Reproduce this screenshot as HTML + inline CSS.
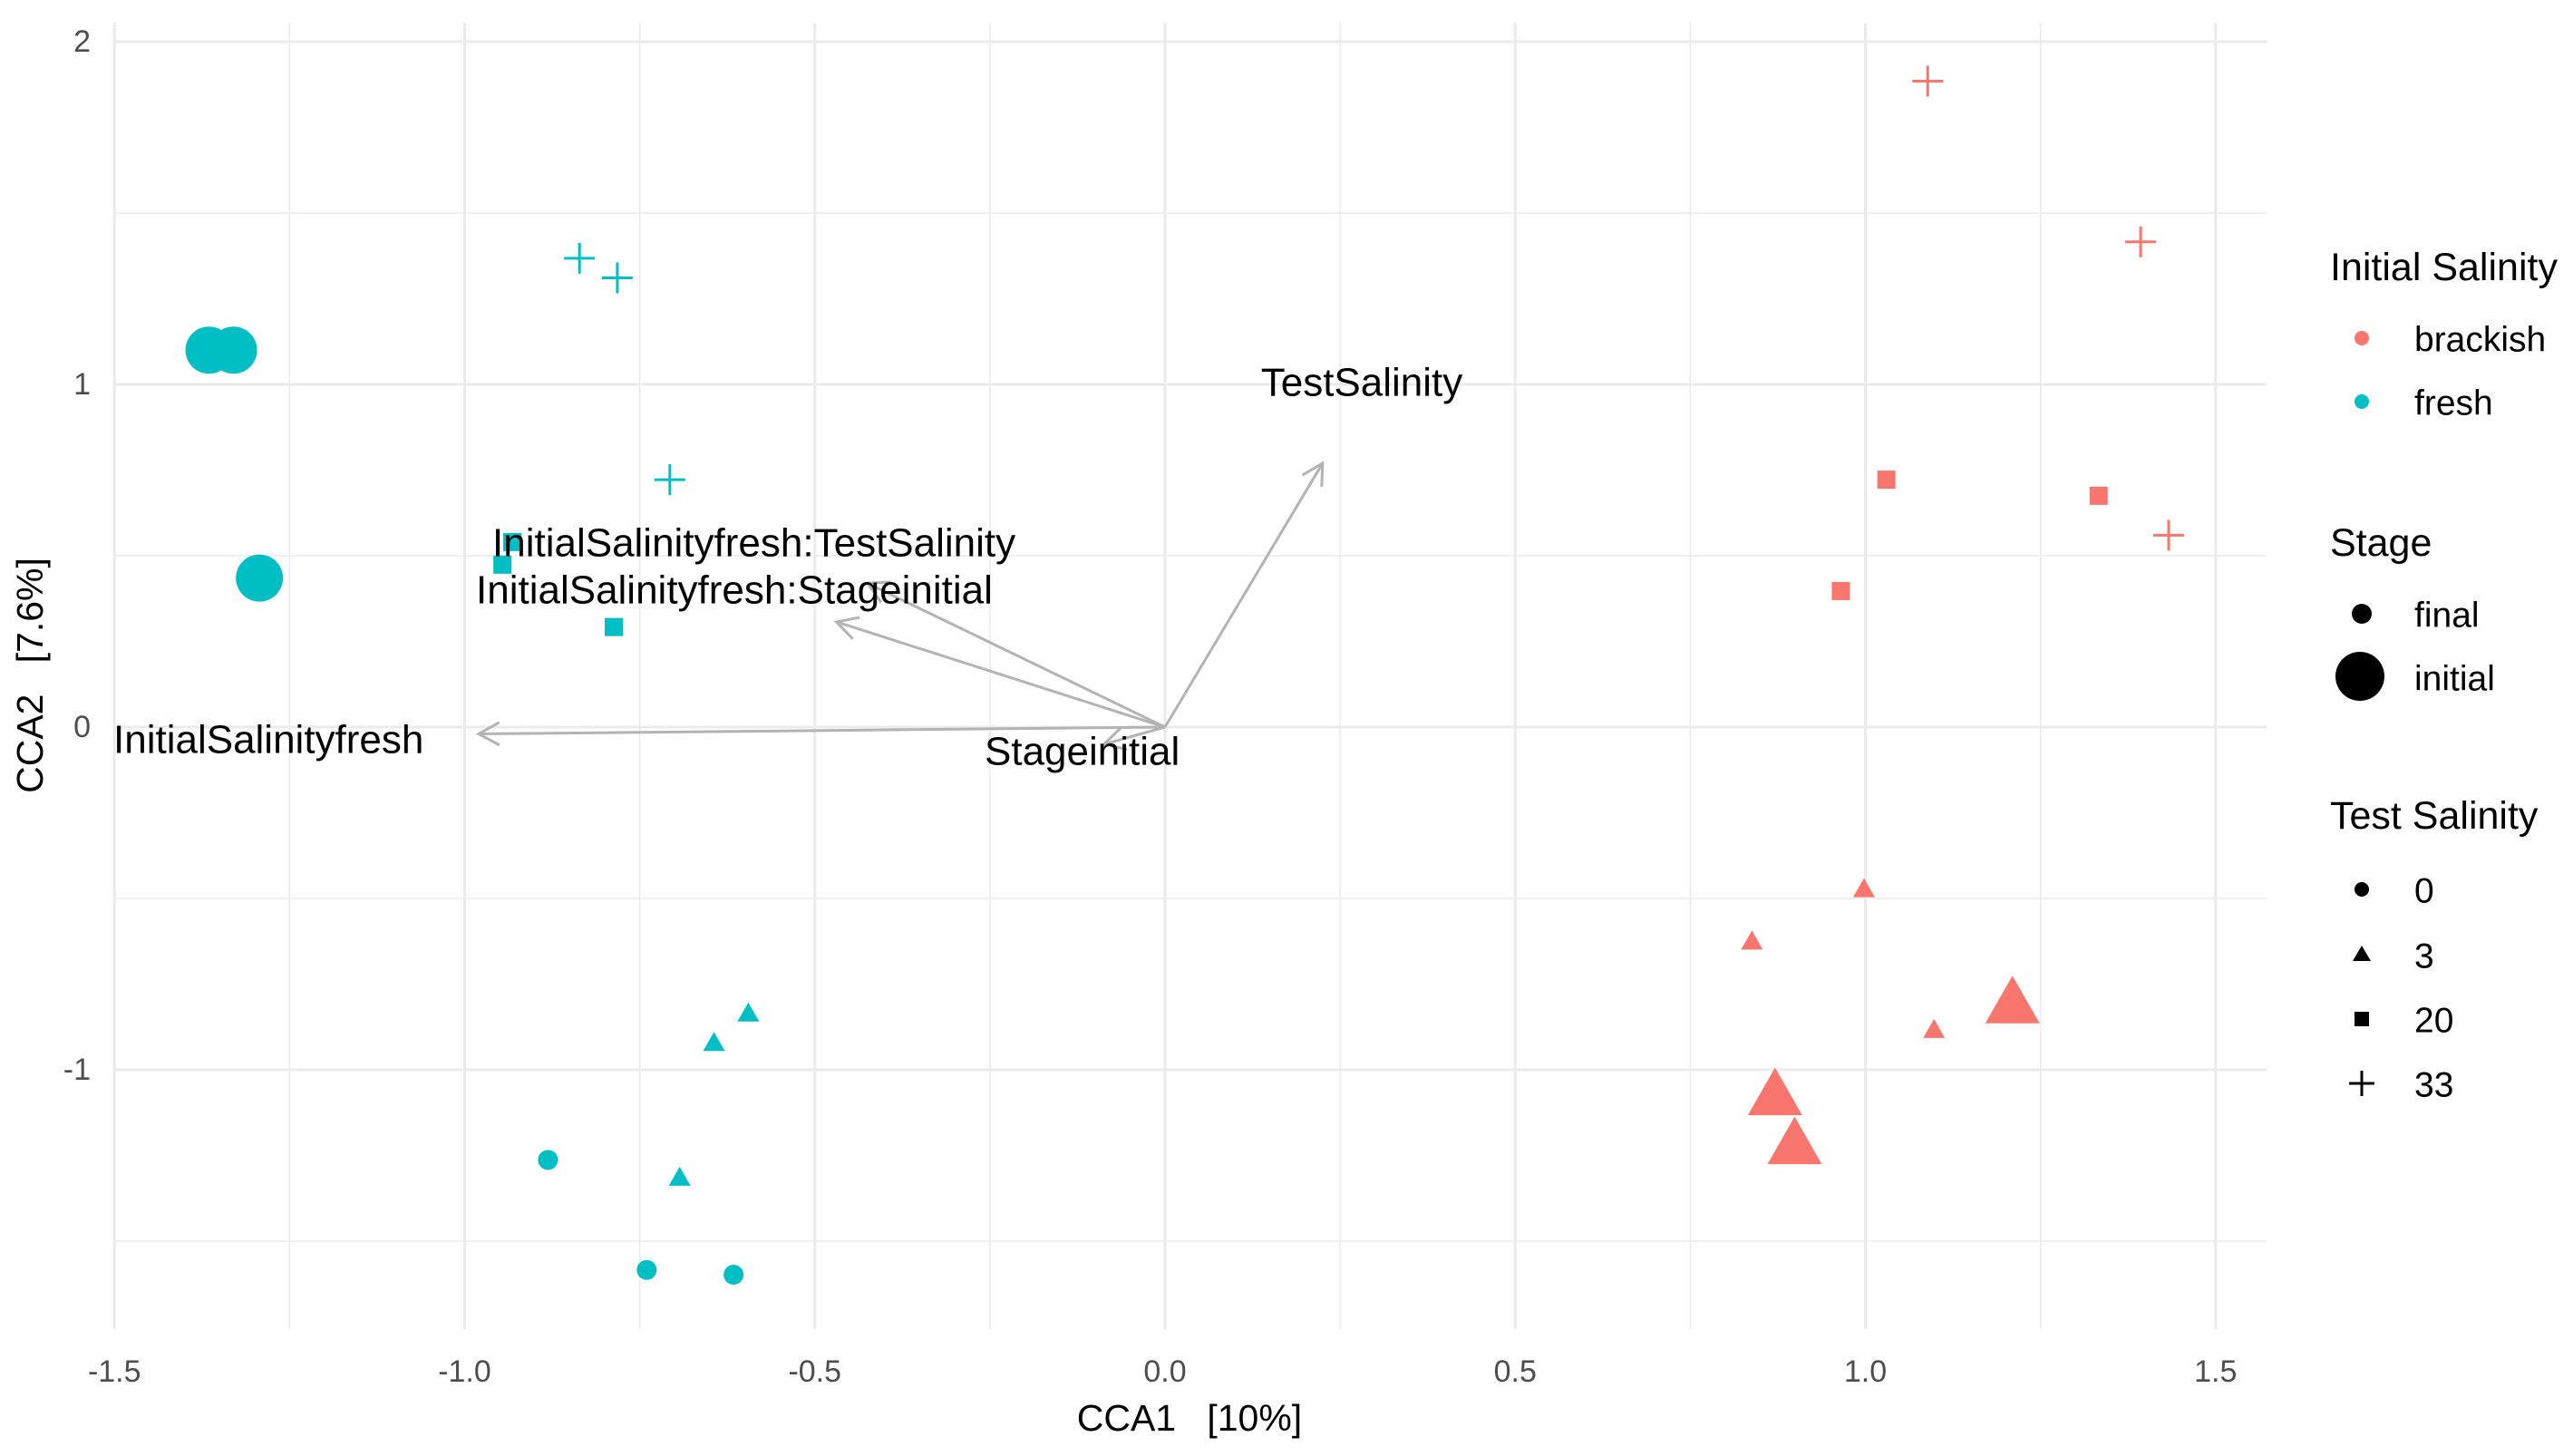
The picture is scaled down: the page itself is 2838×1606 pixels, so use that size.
<!DOCTYPE html>
<html><head><meta charset="utf-8"><style>
html,body{margin:0;padding:0;background:#fff;}
svg{display:block;font-family:"Liberation Sans",Arial,sans-serif;}
</style></head><body>
<svg id="chart" width="2838" height="1606" viewBox="0 0 2838 1606" xmlns="http://www.w3.org/2000/svg">
<g id="grid"></g>
<g id="arrows"></g>
<g id="points"></g>
<g id="labels"></g>
<g id="axes"></g>
<g id="legend"></g>
</svg>
<script>
const xTicks = [-1.5, -1.0, -0.5, 0.0, 0.5, 1.0, 1.5];
const xTickLabels = ["-1.5", "-1.0", "-0.5", "0.0", "0.5", "1.0", "1.5"];
const yTicks = [-1, 0, 1, 2];
const yTickLabels = ["-1", "0", "1", "2"];
const ptX = [-1.365,-1.33,-1.293,-0.836,-0.782,-0.707,-0.932,-0.946,-0.787,-0.595,-0.644,-0.693,-0.881,-0.740,-0.616,
             1.089,1.393,1.433,1.030,1.333,0.965,0.998,0.838,1.098,1.210,0.871,0.899];
const ptY = [1.10,1.10,0.435,1.368,1.311,0.722,0.54,0.474,0.292,-0.837,-0.923,-1.316,-1.263,-1.584,-1.598,
             1.885,1.416,0.56,0.722,0.675,0.397,-0.474,-0.627,-0.885,-0.809,-1.077,-1.22];
const ptGroup = ["fresh","fresh","fresh","fresh","fresh","fresh","fresh","fresh","fresh","fresh","fresh","fresh","fresh","fresh","fresh",
                 "brackish","brackish","brackish","brackish","brackish","brackish","brackish","brackish","brackish","brackish","brackish","brackish"];
const ptStage = ["initial","initial","initial","final","final","final","final","final","final","final","final","final","final","final","final",
                 "final","final","final","final","final","final","final","final","final","initial","initial","initial"];
const ptSal = [0,0,0,33,33,33,20,20,20,3,3,3,0,0,0, 33,33,33,20,20,20,3,3,3,3,3,3];
const arrowNames = ["TestSalinity","InitialSalinityfresh","InitialSalinityfresh:Stageinitial","InitialSalinityfresh:TestSalinity","Stageinitial"];
const arrowX = [0.225,-0.98,-0.469,-0.425,-0.087];
const arrowY = [0.77,-0.02,0.307,0.42,-0.05];

const X0=1285, XU=772.5, Y0=802, YU=378;
const PL=125, PR=2500, PT=25, PB=1466;
const sx=v=>X0+v*XU, sy=v=>Y0-v*YU;
const NS="http://www.w3.org/2000/svg";
function mk(tag,attrs,parent){const e=document.createElementNS(NS,tag);for(const k in attrs)e.setAttribute(k,attrs[k]);parent.appendChild(e);return e;}
const colors={brackish:"#F8766D",fresh:"#00BFC4"};
const grid=document.getElementById('grid');
for(let i=0;i<xTicks.length-1;i++){const v=(xTicks[i]+xTicks[i+1])/2;
  const l=mk('line',{x1:sx(v),x2:sx(v),y1:PT,y2:PB,stroke:"#ebebeb","stroke-width":1.6},grid);
  }
[-1.5,-0.5,0.5,1.5].forEach(v=>{const l=mk('line',{x1:PL,x2:PR,y1:sy(v),y2:sy(v),stroke:"#ebebeb","stroke-width":1.6},grid);
  });
xTicks.forEach(v=>{const l=mk('line',{x1:sx(v),x2:sx(v),y1:PT,y2:PB,stroke:"#ebebeb","stroke-width":3},grid);
  });
yTicks.forEach(v=>{const l=mk('line',{x1:PL,x2:PR,y1:sy(v),y2:sy(v),stroke:"#ebebeb","stroke-width":3},grid);
  });

const ag=document.getElementById('arrows');
arrowX.forEach((ax,i)=>{const x2=sx(ax),y2=sy(arrowY[i]),x1=sx(0),y1=sy(0);
  const g=mk('g',{},ag);
  
  
  mk('line',{x1,y1,x2,y2,stroke:"#b3b3b3","stroke-width":3},g);
  const a=Math.atan2(y2-y1,x2-x1),L=26,w=0.5;
  const p=`M${x2-L*Math.cos(a-w)},${y2-L*Math.sin(a-w)} L${x2},${y2} L${x2-L*Math.cos(a+w)},${y2-L*Math.sin(a+w)}`;
  mk('path',{d:p,fill:"none",stroke:"#b3b3b3","stroke-width":3},g);
});

const pg=document.getElementById('points');
function marker(parent,shape,cx,cy,big,col){
  let e;
  if(shape===0){e=mk('circle',{cx,cy,r:big?26:11,fill:col},parent);}
  else if(shape===3){const s=big?30:12;e=mk('path',{d:`M${cx},${cy-s*1.05} L${cx+s*1.0},${cy+s*0.7} L${cx-s*1.0},${cy+s*0.7}Z`,fill:col},parent);}
  else if(shape===20){const s=big?24:10;e=mk('rect',{x:cx-s,y:cy-s,width:2*s,height:2*s,fill:col},parent);}
  else {const s=big?34:17;e=mk('path',{d:`M${cx-s},${cy}H${cx+s}M${cx},${cy-s}V${cy+s}`,stroke:col,"stroke-width":3,fill:"none"},parent);}
  return e;
}
ptX.forEach((v,i)=>{const e=marker(pg,ptSal[i],sx(v),sy(ptY[i]),ptStage[i]==="initial",colors[ptGroup[i]]);
  
  });

const lg=document.getElementById('labels');
const labelSpec=[["TestSalinity",1502,422,"middle"],["InitialSalinityfresh",125,816,"start"],
 ["InitialSalinityfresh:Stageinitial",525,651,"start"],["InitialSalinityfresh:TestSalinity",543,599,"start"],["Stageinitial",1086,829,"start"]];
labelSpec.forEach(s=>{const t=mk('text',{x:s[1],y:s[2],"font-size":44,fill:"#000","text-anchor":s[3],"dominant-baseline":"central"},lg);
  t.textContent=s[0];
  
  });

const axg=document.getElementById('axes');
xTicks.forEach((v,i)=>{const t=mk('text',{x:sx(v),y:1513,"font-size":34,fill:"#4d4d4d","text-anchor":"middle","dominant-baseline":"central"},axg);
  t.textContent=xTickLabels[i];});
yTicks.forEach((v,i)=>{const t=mk('text',{x:100,y:sy(v),"font-size":34,fill:"#4d4d4d","text-anchor":"end","dominant-baseline":"central"},axg);
  t.textContent=yTickLabels[i];});
let t=mk('text',{x:1312,y:1564,"font-size":41,fill:"#000","text-anchor":"middle","dominant-baseline":"central",style:"white-space:pre"},axg);
t.textContent="CCA1   [10%]";
t=mk('text',{x:0,y:0,"font-size":41,fill:"#000","text-anchor":"middle","dominant-baseline":"central",transform:"translate(33,745) rotate(-90)",style:"white-space:pre"},axg);
t.textContent="CCA2   [7.6%]";

const leg=document.getElementById('legend');
function ltext(x,y,s,size,name){const e=mk('text',{x,y,"font-size":size,fill:"#000","dominant-baseline":"central"},leg);e.textContent=s;
  return e;}
ltext(2570,295,"Initial Salinity",43,"legend-title-initial-salinity");
let c=mk('circle',{cx:2605,cy:373,r:8,fill:colors.brackish},leg);
ltext(2663,375,"brackish",39,"legend-label-brackish");
c=mk('circle',{cx:2605,cy:443,r:8,fill:colors.fresh},leg);
ltext(2663,445,"fresh",39,"legend-label-fresh");
ltext(2570,599,"Stage",43,"legend-title-stage");
c=mk('circle',{cx:2605,cy:677,r:11,fill:"#000"},leg);
ltext(2663,679,"final",39,"legend-label-final");
c=mk('circle',{cx:2603,cy:746,r:27,fill:"#000"},leg);
ltext(2663,749,"initial",39,"legend-label-initial");
ltext(2570,900,"Test Salinity",43,"legend-title-test-salinity");
[[0,981,"0"],[3,1053,"3"],[20,1124,"20"],[33,1195,"33"]].forEach(s=>{
  let e;
  if(s[0]===0) e=mk('circle',{cx:2605,cy:s[1],r:8,fill:"#000"},leg);
  else if(s[0]===3) e=mk('path',{d:`M2605,${s[1]-10} L2615,${s[1]+7} L2595,${s[1]+7}Z`,fill:"#000"},leg);
  else if(s[0]===20) e=mk('rect',{x:2597,y:s[1]-8,width:16,height:16,fill:"#000"},leg);
  else e=mk('path',{d:`M2591,${s[1]}H2619M2605,${s[1]-14}V${s[1]+14}`,stroke:"#000","stroke-width":3},leg);
  
  ltext(2663,s[1]+2,s[2],39,"legend-label-salinity-"+s[2]);
});
</script>
</body></html>
